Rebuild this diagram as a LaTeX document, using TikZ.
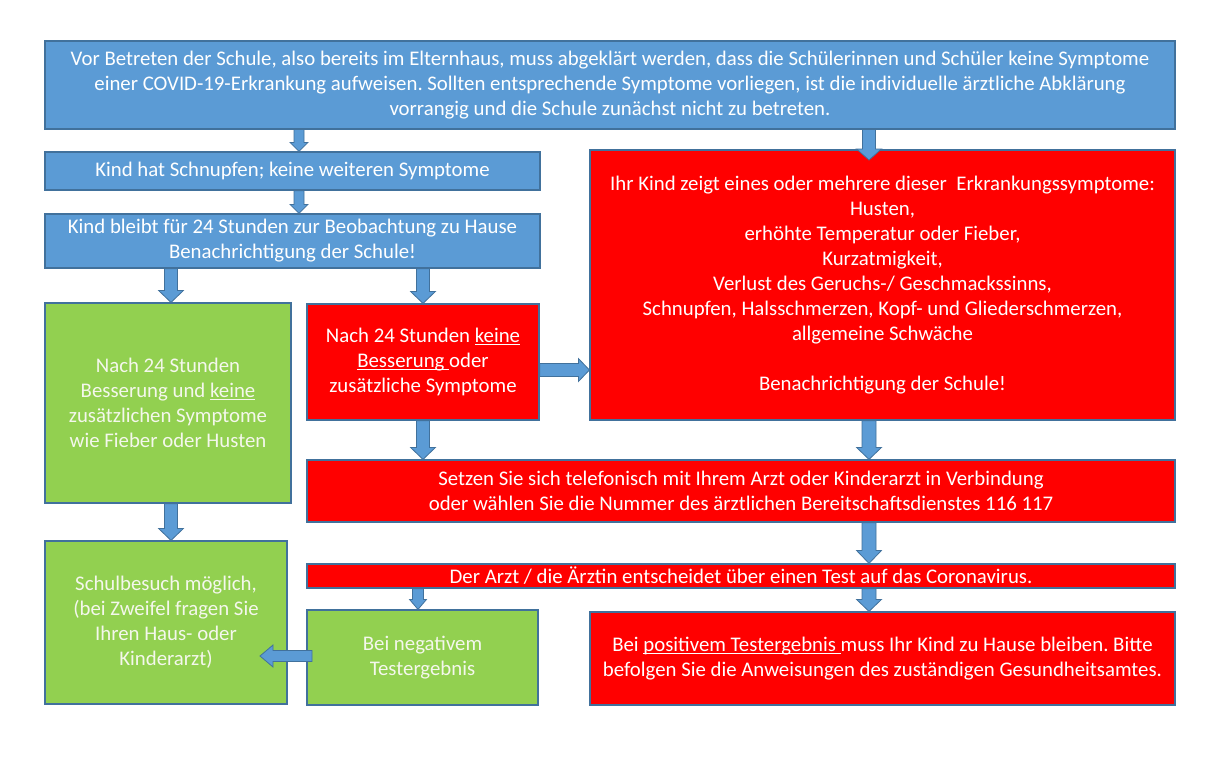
\documentclass[tikz,border=0pt]{standalone}
\usepackage{fontspec}
\setmainfont{Carlito}
\usetikzlibrary{calc}
\definecolor{bfill}{HTML}{5B9BD5}
\definecolor{bline}{HTML}{41719C}
\definecolor{rfill}{HTML}{FF0000}
\definecolor{gfill}{HTML}{92D050}
\definecolor{gtext}{HTML}{F4F7EC}
\frenchspacing
\newcommand\myul[1]{\setbox0\hbox{#1}\rlap{\rule[-2.8pt]{\wd0}{1.1pt}}\box0}
\tikzset{
  box/.style={draw=bline, line width=1.2pt, inner sep=0pt, align=center,
    font=\fontsize{20.8}{25}\selectfont\frenchspacing},
  bluebox/.style={box, fill=bfill, text=white},
  redbox/.style={box, fill=rfill, text=white},
  greenbox/.style={box, fill=gfill, text=gtext},
  arr/.style={fill=bfill, draw=bline, line width=0.8pt},
}
% block arrow: from, to, half shaft, half head, head length
\newcommand\barrow[5]{%
  \path ($(#2)!#5!(#1)$) coordinate (hb);
  \filldraw[arr] ($(#1)!#3!90:(#2)$) -- ($(hb)!#3!90:(#2)$) -- ($(hb)!#4!90:(#2)$)
    -- (#2) -- ($(hb)!#4!-90:(#2)$) -- ($(hb)!#3!-90:(#2)$) -- ($(#1)!#3!-90:(#2)$) -- cycle;}
\begin{document}
\begin{tikzpicture}[x=1pt,y=-1pt]
\useasboundingbox[fill=white] (0,0) rectangle (1217,757);
\node[bluebox, minimum width=1130pt, minimum height=88pt] (top) at (610,85)
 {Vor Betreten der Schule, also bereits im Elternhaus, muss abgeklärt werden, dass die Schülerinnen und Schüler keine Symptome\\
  einer COVID-19-Erkrankung aufweisen. Sollten entsprechende Symptome vorliegen, ist die individuelle ärztliche Abklärung\\
  vorrangig und die Schule zunächst nicht zu betreten.};
\node[bluebox, minimum width=495pt, minimum height=38pt] (b2) at (292.5,171)
 {Kind hat Schnupfen; keine weiteren Symptome};
\node[bluebox, minimum width=495pt, minimum height=54pt] (b3) at (292.5,241)
 {Kind bleibt für 24 Stunden zur Beobachtung zu Hause\\Benachrichtigung der Schule!};
\node[greenbox, minimum width=246pt, minimum height=200pt] (g1) at (168,403)
 {Nach 24 Stunden\\Besserung und \myul{keine}\\zusätzlichen Symptome\\wie Fieber oder Husten};
\node[redbox, minimum width=232pt, minimum height=116pt] (rm) at (423,362)
 {Nach 24 Stunden \myul{keine}\\\myul{Besserung\ }oder\\zusätzliche Symptome};
\node[redbox, minimum width=585pt, minimum height=270pt] (rbig) at (882.5,285)
 {Ihr Kind zeigt eines oder mehrere dieser\ \ Erkrankungssymptome:\\
  Husten,\\erhöhte Temperatur oder Fieber,\\Kurzatmigkeit,\\
  Verlust des Geruchs-/ Geschmackssinns,\\
  Schnupfen, Halsschmerzen, Kopf- und Gliederschmerzen,\\
  allgemeine Schwäche\\[25pt]Benachrichtigung der Schule!};
\node[redbox, minimum width=868pt, minimum height=62pt] (rwide) at (741,491)
 {Setzen Sie sich telefonisch mit Ihrem Arzt oder Kinderarzt in Verbindung\\
  oder wählen Sie die Nummer des ärztlichen Bereitschaftsdienstes 116 117};
\node[redbox, minimum width=868pt, minimum height=24pt] (rbar) at (741,576)
 {Der Arzt / die Ärztin entscheidet über einen Test auf das Coronavirus.};
\node[greenbox, minimum width=242pt, minimum height=163pt] (g2) at (166,622.5)
 {Schulbesuch möglich,\\(bei Zweifel fragen Sie\\Ihren Haus- oder\\Kinderarzt)};
\node[greenbox, minimum width=231pt, minimum height=95pt] (gneg) at (422.5,657.5)
 {Bei negativem\\Testergebnis};
\node[redbox, minimum width=585pt, minimum height=93pt] (rpos) at (882.5,658.5)
 {Bei \myul{positivem Testergebnis\ }muss Ihr Kind zu Hause bleiben. Bitte\\
  befolgen Sie die Anweisungen des zuständigen Gesundheitsamtes.};
% helper columns / rows
\path (299,0) coordinate (xA) (171,0) coordinate (xB) (423,0) coordinate (xC)
      (869,0) coordinate (xD) (418,0) coordinate (xE)
      (0,370) coordinate (yA) (0,656) coordinate (yB)
      (0,160) coordinate (yT) (312,0) coordinate (xS) (260,0) coordinate (xT);
\path (top.south -| xA) coordinate (a1s) (b2.north -| xA) coordinate (a1e)
      (b2.south -| xA) coordinate (a2s) (b3.north -| xA) coordinate (a2e)
      (top.south -| xD) coordinate (a3s) (xD |- yT) coordinate (a3e)
      (b3.south -| xB) coordinate (a4s) (g1.north -| xB) coordinate (a4e)
      (b3.south -| xC) coordinate (a5s) (rm.north -| xC) coordinate (a5e)
      (rm.east |- yA) coordinate (a6s) (rbig.west |- yA) coordinate (a6e)
      (rm.south -| xC) coordinate (a7s) (rwide.north -| xC) coordinate (a7e)
      (rbig.south -| xD) coordinate (a8s) (rwide.north -| xD) coordinate (a8e)
      (rwide.south -| xD) coordinate (a9s) (rbar.north -| xD) coordinate (a9e)
      (g1.south -| xB) coordinate (a10s) (g2.north -| xB) coordinate (a10e)
      (rbar.south -| xE) coordinate (a11s) (gneg.north -| xE) coordinate (a11e)
      (rbar.south -| xD) coordinate (a12s) (rpos.north -| xD) coordinate (a12e)
      (xS |- yB) coordinate (a13s) (xT |- yB) coordinate (a13e);
\barrow{a1s}{a1e}{5pt}{9pt}{9pt}
\barrow{a2s}{a2e}{5pt}{9pt}{9pt}
\barrow{a3s}{a3e}{6.5pt}{12.5pt}{11pt}
\barrow{a4s}{a4e}{6.5pt}{12.5pt}{12pt}
\barrow{a5s}{a5e}{6.5pt}{12.5pt}{12pt}
\barrow{a6s}{a6e}{6.5pt}{11.5pt}{11pt}
\barrow{a7s}{a7e}{6.5pt}{12.5pt}{12pt}
\barrow{a8s}{a8e}{7pt}{12.5pt}{12pt}
\barrow{a9s}{a9e}{7pt}{12.5pt}{13pt}
\barrow{a10s}{a10e}{6.5pt}{12.5pt}{12pt}
\barrow{a11s}{a11e}{5.5pt}{8.5pt}{10pt}
\barrow{a12s}{a12e}{7pt}{12.5pt}{12pt}
\barrow{a13s}{a13e}{5.5pt}{11pt}{13pt}
\end{tikzpicture}
\end{document}
